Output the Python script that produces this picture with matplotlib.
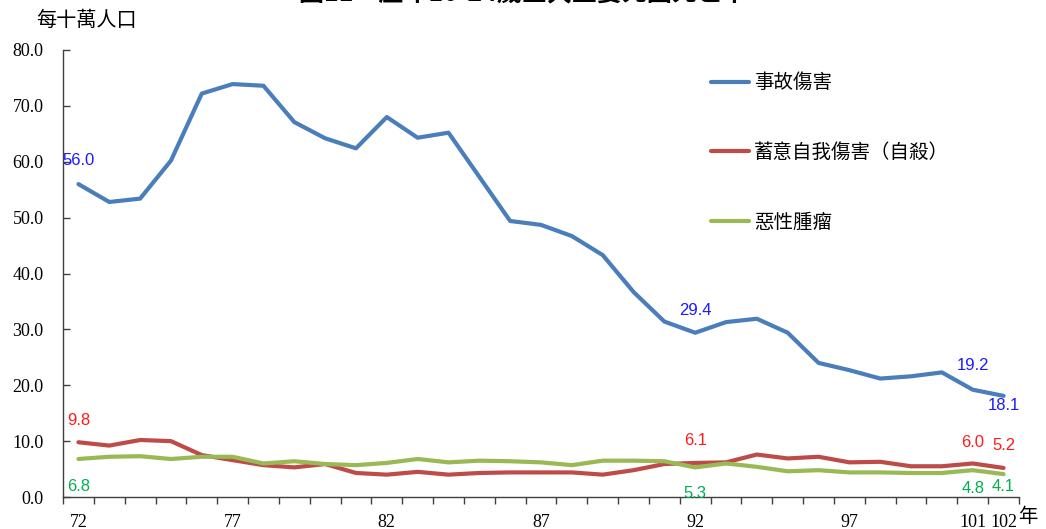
import matplotlib
matplotlib.use("Agg")
import matplotlib.pyplot as plt
from matplotlib.ticker import FixedLocator, NullFormatter

plt.rcParams['font.family'] = ['Liberation Serif', 'Noto Sans CJK TC']
plt.rcParams['axes.unicode_minus'] = False

# 民國年
years = list(range(72, 103))
accident = [56.0, 52.8, 53.4, 60.2, 72.2, 73.9, 73.6, 67.1, 64.2, 62.4,
            68.0, 64.3, 65.2, 57.3, 49.4, 48.7, 46.7, 43.3, 36.7, 31.4,
            29.4, 31.3, 31.9, 29.4, 24.0, 22.7, 21.2, 21.6, 22.3, 19.2, 18.1]
suicide = [9.8, 9.2, 10.2, 10.0, 7.5, 6.6, 5.7, 5.3, 5.9, 4.3,
           4.0, 4.5, 4.0, 4.3, 4.4, 4.4, 4.4, 4.0, 4.8, 5.9,
           6.1, 6.2, 7.6, 6.9, 7.2, 6.2, 6.3, 5.5, 5.5, 6.0, 5.2]
cancer = [6.8, 7.2, 7.3, 6.8, 7.2, 7.2, 6.0, 6.4, 5.9, 5.7,
          6.1, 6.8, 6.2, 6.5, 6.4, 6.2, 5.7, 6.5, 6.5, 6.4,
          5.3, 6.0, 5.4, 4.6, 4.8, 4.4, 4.4, 4.3, 4.3, 4.8, 4.1]
names = ['事故傷害', '蓄意自我傷害（自殺）', '惡性腫瘤']
xtick_years = [72, 77, 82, 87, 92, 97, 101, 102]
label_years = [72, 92, 101, 102]

fig = plt.figure(figsize=(10.46, 5.29), dpi=100)
ax = fig.add_axes([63 / 1046, 1 - 497 / 529, 956 / 1046, 447 / 529])

line_colors = ['#4A7EBB', '#BE4B48', '#98B954']
text_colors = ['#1A1AFF', '#FF1A1A', '#00B050']
series = [accident, suicide, cancer]
for s, name, c in zip(series, names, line_colors):
    ax.plot(years, s, color=c, lw=3, label=name, solid_capstyle='round')

# 數據標籤 (像素偏移)
offsets = [
    {72: (0, 24), 92: (0, 22), 101: (0, 24), 102: (0, -10)},
    {72: (0, 22), 92: (0, 22), 101: (0, 21), 102: (0, 22)},
    {72: (0, -27), 92: (0, -26), 101: (0, -18), 102: (0, -12)},
]
for s, tc, off in zip(series, text_colors, offsets):
    for yr in label_years:
        v = s[years.index(yr)]
        ax.annotate("%.1f" % v, (yr, v), xytext=off[yr], textcoords='offset pixels',
                    ha='center', va='center', color=tc, fontsize=12,
                    family='Liberation Sans', annotation_clip=False)

ax.set_xlim(71.5, 102.5)
ax.set_ylim(0, 80)
ax.set_yticks(range(0, 81, 10))
ax.set_yticklabels(["%.1f" % v for v in range(0, 81, 10)])
ax.set_xticks(xtick_years)
ax.set_xticklabels([str(v) for v in xtick_years])
ax.xaxis.set_minor_locator(FixedLocator([y - 0.5 for y in years] + [102.5]))
ax.xaxis.set_minor_formatter(NullFormatter())

ax.tick_params(axis='y', direction='in', length=5, width=1, color='#404040',
               labelsize=13, pad=14)
ax.tick_params(axis='x', which='major', length=0, labelsize=13, pad=12)
ax.tick_params(axis='x', which='minor', direction='out', length=5, width=1, color='#404040')
for sp in ['top', 'right']:
    ax.spines[sp].set_visible(False)
for sp in ['left', 'bottom']:
    ax.spines[sp].set_color('#404040')
    ax.spines[sp].set_linewidth(1)

leg = ax.legend(loc='upper left', bbox_to_anchor=(0.678, 0.95), frameon=False,
                handlelength=1.95, handletextpad=0.25, labelspacing=2.5,
                borderaxespad=0, borderpad=0, prop={'family': 'Noto Sans CJK TC', 'size': 14})

fig.text(36 / 1046, 1 - 20 / 529, '每十萬人口', ha='left', va='center', fontsize=14.5,
         family='Noto Sans CJK TC')
fig.text(1028 / 1046, 1 - 517 / 529, '年', ha='center', va='center', fontsize=14,
         family='Noto Sans CJK TC')
fig.text(523 / 1046, 1 + 6 / 529, '圖11　歷年10-24歲三大主要死因死亡率', ha='center',
         va='center', fontsize=18, fontweight='bold', family='Noto Sans CJK TC')

fig.savefig('out.png', dpi=100)
